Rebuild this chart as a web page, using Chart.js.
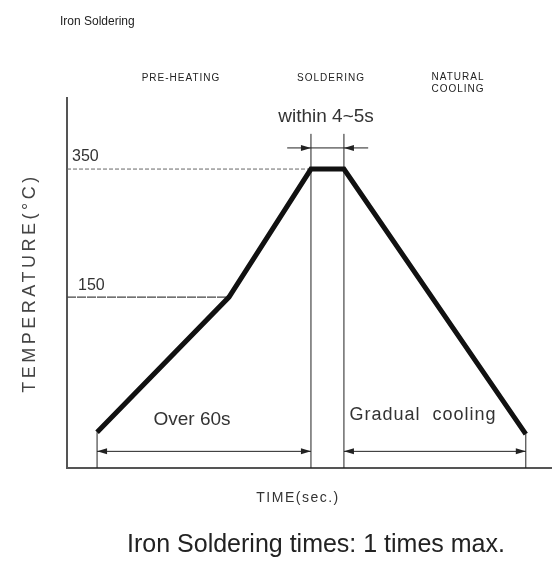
<!DOCTYPE html>
<html>
<head>
<meta charset="utf-8">
<script src="https://cdn.jsdelivr.net/npm/chart.js@4/dist/chart.umd.min.js"></script>
<style>
    html, body { margin: 0; padding: 0; background: #ffffff; }
    #wrap { width: 552px; height: 566px; }
</style>
</head>
<body>
<div id="wrap"><canvas id="profileChart" width="552" height="566"></canvas></div>
<script>
// Schematic soldering profile.
// x is a schematic time position (0..100), y is temperature on a linear fit of the 150/350 marks.
const profileTime = [6.2, 33.4, 50.3, 57.1, 94.6];
const profileTemp = [-61, 150, 350, 350, -64];

const markTemps = [350, 150];            // dashed reference levels
const markEnds = [50.3, 33.4];           // where each reference line meets the curve
const zoneBounds = [50.3, 57.1];         // soldering window boundaries
const zoneTop = 405;                     // top of the boundary lines
const dimLevelBottom = -91;              // "Over 60s" / "Gradual cooling" dimension lines
const dimLevelTop = 383;                 // "within 4~5s" dimension line
const dimTopSpan = [45.4, 62.1];
const xRange = [0, 100];
const yRange = [-117, 461];

const pts = (xs, ys) => xs.map((x, i) => ({ x: x, y: ys[i] }));

const thin = { showLine: true, pointRadius: 0, borderColor: '#222', borderWidth: 1, fill: false };

const datasets = [
    {
        label: 'Profile',
        data: pts(profileTime, profileTemp),
        showLine: true,
        borderColor: '#111',
        borderWidth: 5,
        pointRadius: 0,
        borderJoinStyle: 'miter',
        fill: false
    },
    { ...thin, data: pts([xRange[0], markEnds[0]], [markTemps[0], markTemps[0]]), borderColor: '#666', borderDash: [4, 2] },
    { ...thin, data: pts([xRange[0], markEnds[1]], [markTemps[1], markTemps[1]]), borderColor: '#444', borderWidth: 1.3, borderDash: [9, 1] },
    { ...thin, data: pts([zoneBounds[0], zoneBounds[0]], [yRange[0], zoneTop]) },
    { ...thin, data: pts([zoneBounds[1], zoneBounds[1]], [yRange[0], zoneTop]) },
    { ...thin, data: pts([profileTime[0], profileTime[0]], [yRange[0], profileTemp[0]]) },
    { ...thin, data: pts([profileTime[4], profileTime[4]], [yRange[0], profileTemp[4]]) },
    { ...thin, data: pts([profileTime[0], zoneBounds[0]], [dimLevelBottom, dimLevelBottom]) },
    { ...thin, data: pts([zoneBounds[1], profileTime[4]], [dimLevelBottom, dimLevelBottom]) },
    { ...thin, data: pts(dimTopSpan, [dimLevelTop, dimLevelTop]) }
];

function arrowHead(ctx, x, y, dir) {
    // dir: +1 points right, -1 points left
    ctx.beginPath();
    ctx.moveTo(x, y);
    ctx.lineTo(x - dir * 10, y - 3);
    ctx.lineTo(x - dir * 10, y + 3);
    ctx.closePath();
    ctx.fill();
}

const annotations = {
    id: 'annotations',
    afterDatasetsDraw(chart) {
        const ctx = chart.ctx;
        const xs = chart.scales.x, ys = chart.scales.y;
        const px = v => xs.getPixelForValue(v);
        const py = v => ys.getPixelForValue(v);
        ctx.save();
        ctx.fillStyle = '#222';

        // arrow heads on the dimension lines
        const yb = py(dimLevelBottom);
        arrowHead(ctx, px(profileTime[0]), yb, -1);
        arrowHead(ctx, px(zoneBounds[0]), yb, 1);
        arrowHead(ctx, px(zoneBounds[1]), yb, -1);
        arrowHead(ctx, px(profileTime[4]), yb, 1);
        const yt = py(dimLevelTop);
        arrowHead(ctx, px(zoneBounds[0]), yt, 1);
        arrowHead(ctx, px(zoneBounds[1]), yt, -1);

        const text = (s, x, y, font, align, color, spacing) => {
            ctx.font = font;
            ctx.letterSpacing = spacing || '0px';
            ctx.textAlign = align || 'center';
            ctx.textBaseline = 'middle';
            ctx.fillStyle = color || '#333';
            ctx.fillText(s, x, y);
        };
        const sans = '"Liberation Sans", Arial, sans-serif';

        // level labels
        text(String(markTemps[0]), 72, py(markTemps[0]) - 12, '16px ' + sans, 'left', '#333');
        text(String(markTemps[1]), 78, py(markTemps[1]) - 11, '16px ' + sans, 'left', '#333');

        // zone headers
        const hdr = '10px ' + sans;
        text('PRE-HEATING', 181, 78, hdr, 'center', '#222', '1px');
        text('SOLDERING', 331, 78, hdr, 'center', '#222', '1px');
        text('NATURAL', 458, 77, hdr, 'center', '#222', '1px');
        text('COOLING', 458, 89, hdr, 'center', '#222', '1px');

        text('within 4~5s', 326, 117, '19px ' + sans, 'center', '#333');
        text('Over 60s', 192, 420, '19px ' + sans, 'center', '#333');
        text('Gradual  cooling', 423, 415, '18px ' + sans, 'center', '#333', '1px');

        text('Iron Soldering', 60, 22, '12px ' + sans, 'left', '#222');
        text('TIME(sec.)', 298, 498, '14px ' + sans, 'center', '#333', '1.5px');
        text('Iron Soldering times: 1 times max.', 316, 545, '25px ' + sans, 'center', '#222');

        // vertical axis title
        ctx.save();
        ctx.translate(30, 283);
        ctx.rotate(-Math.PI / 2);
        text('TEMPERATURE(°C)', 0, 0, '18px ' + sans, 'center', '#444', '3.5px');
        ctx.restore();

        ctx.restore();
    }
};

const ctx = document.getElementById('profileChart').getContext('2d');
new Chart(ctx, {
    type: 'scatter',
    data: { datasets: datasets },
    options: {
        responsive: false,
        animation: false,
        layout: { padding: { left: 67, top: 98, right: 0, bottom: 98 } },
        scales: {
            x: {
                type: 'linear',
                min: xRange[0],
                max: xRange[1],
                ticks: { display: false },
                grid: { display: false, drawTicks: false },
                border: { display: true, color: '#555', width: 2 },
                afterFit: s => { s.height = 0; }
            },
            y: {
                type: 'linear',
                min: yRange[0],
                max: yRange[1],
                ticks: { display: false },
                grid: { display: false, drawTicks: false },
                border: { display: true, color: '#555', width: 2 },
                afterFit: s => { s.width = 0; }
            }
        },
        plugins: {
            legend: { display: false },
            tooltip: { enabled: false }
        }
    },
    plugins: [annotations]
});
</script>
</body>
</html>
